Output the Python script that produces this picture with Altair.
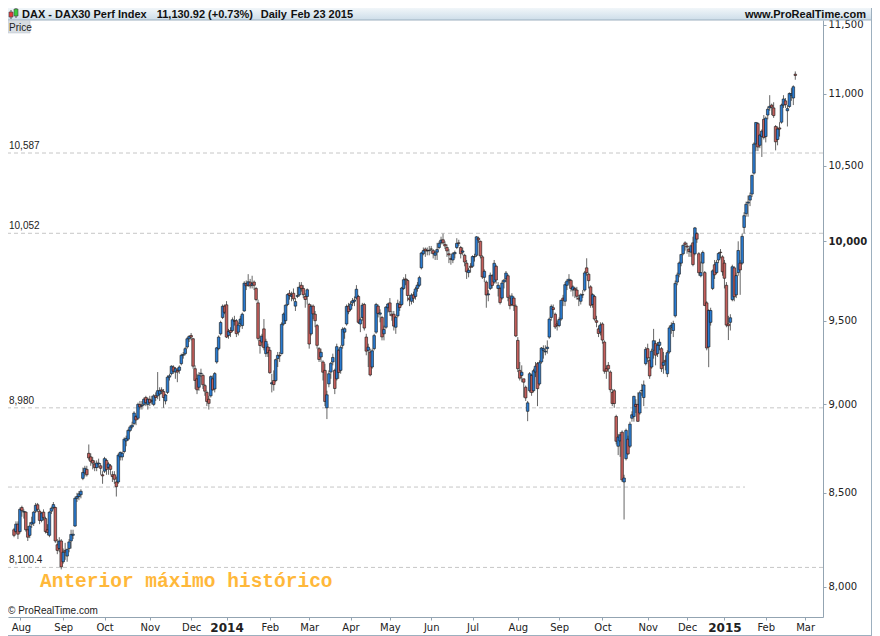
import altair as alt
import pandas as pd

# ---------------- data ----------------
holidays = ["2013-12-24", "2013-12-25", "2013-12-26", "2013-12-31", "2014-01-01",
            "2014-04-18", "2014-04-21", "2014-05-01", "2014-12-24", "2014-12-25",
            "2014-12-26", "2014-12-31", "2015-01-01"]

opens = [
    8300, 8290, 8330,
    8290, 8420, 8395, 8395, 8300, 8270, 8330, 8335, 8400, 8435, 8400, 8350, 8395, 8360, 8300, 8270, 8400, 8420, 8420, 8220, 8200, 8240,
    8130, 8190, 8160, 8200, 8240, 8270, 8320, 8470, 8480, 8490, 8580, 8610, 8630, 8720, 8700, 8680, 8660, 8640, 8660, 8650, 8600,
    8620, 8680, 8640, 8650, 8600, 8600, 8560, 8560, 8700, 8700, 8730, 8790, 8800, 8850, 8870, 8890, 8930, 8920, 9000, 8990, 9000, 9040, 9000,
    9030, 9020, 9000, 9050, 9050, 9060, 9085, 9075, 9020, 9070, 9160, 9180, 9220, 9190, 9200, 9200, 9240, 9290, 9300, 9340, 9390,
    9410, 9390, 9210, 9150, 9100, 9180, 9170, 9110, 9070, 9030, 9050, 9150, 9090, 9250, 9330, 9420, 9520, 9590,
    9598, 9410, 9440, 9440, 9500, 9500, 9430, 9480, 9470, 9560, 9730, 9720, 9740, 9720, 9740, 9700, 9610, 9380, 9370, 9450, 9300, 9340,
    9320, 9120, 9140, 9140, 9270, 9290, 9300, 9480, 9500, 9600, 9670, 9650, 9670, 9590, 9650, 9660, 9720, 9700, 9650, 9650,
    9600, 9420, 9590, 9540, 9470, 9330, 9280, 9250, 9200, 8980, 9120, 9190, 9250, 9200, 9150, 9320, 9200, 9350, 9430, 9480, 9590,
    9570, 9610, 9620, 9640, 9650, 9480, 9520, 9600, 9400, 9320, 9310, 9220, 9330, 9430, 9590, 9540, 9520, 9420, 9460, 9580,
    9610, 9540, 9540, 9460, 9530, 9600, 9600, 9700, 9760, 9750, 9640, 9620, 9660, 9650, 9700, 9720, 9830, 9920, 9950, 9940, 9940,
    9950, 9940, 9910, 9930, 9960, 9990, 10010, 9980, 9960, 9920, 9890, 9880, 9920, 9960, 9990, 9960, 9930, 9910, 9860, 9800, 9840,
    9840, 9900, 9910, 10020, 10000, 9900, 9770, 9740, 9660, 9700, 9780, 9740, 9840, 9700, 9700, 9640, 9740, 9760, 9780, 9640, 9600, 9640, 9590,
    9380, 9200, 9170, 9150, 9100, 8960, 9080, 9170, 9080, 9190, 9240, 9120, 9250, 9320, 9310, 9330, 9400, 9520, 9580, 9540, 9480,
    9470, 9510, 9640, 9620, 9720, 9750, 9750, 9690, 9700, 9690, 9640, 9620, 9660, 9690, 9830, 9790, 9710, 9600, 9650, 9500, 9450, 9430,
    9480, 9370, 9210, 9230, 9190, 9070, 9080, 8930, 8760, 8790, 8840, 8560, 8690, 8800, 8760, 8920, 8930, 9000, 9000, 8950, 9080, 9040, 9240,
    9330, 9260, 9220, 9320, 9360, 9300, 9350, 9330, 9230, 9260, 9180, 9310, 9460, 9440, 9530, 9740, 9790, 9860, 9920, 9990,
    9970, 9950, 9930, 9990, 9920, 10050, 9920, 9780, 9860, 9800, 9610, 9340, 9490, 9700, 9850, 9800, 9880, 9930, 9900,
    9860, 9720, 9480, 9490, 9630, 9830, 9660, 9800, 9860, 9860, 10090, 10180, 10250, 10270, 10310, 10450, 10650, 10790, 10640, 10700, 10820,
    10700, 10850, 10900, 10920, 10900, 10770, 10680, 10760, 10800, 10920, 10950, 10880, 10910, 10990, 10970, 11140,
]

highs = [
    8310, 8345, 8345,
    8420, 8430, 8410, 8400, 8320, 8340, 8370, 8400, 8445, 8445, 8410, 8395, 8410, 8370, 8330, 8400, 8425, 8450, 8425, 8250, 8260, 8250,
    8200, 8230, 8200, 8250, 8300, 8300, 8480, 8500, 8510, 8520, 8640, 8650, 8650, 8770, 8720, 8700, 8680, 8680, 8690, 8665, 8620,
    8700, 8690, 8670, 8660, 8620, 8620, 8590, 8720, 8730, 8730, 8810, 8820, 8860, 8880, 8900, 8960, 8940, 9010, 9020, 9020, 9040, 9050, 9040,
    9050, 9050, 9060, 9070, 9190, 9100, 9100, 9090, 9060, 9170, 9180, 9230, 9230, 9220, 9215, 9230, 9300, 9310, 9340, 9400, 9410,
    9425, 9395, 9230, 9180, 9190, 9210, 9180, 9120, 9080, 9050, 9170, 9170, 9190, 9340, 9410, 9500, 9600, 9600,
    9621, 9450, 9460, 9520, 9530, 9510, 9490, 9530, 9550, 9745, 9750, 9790, 9760, 9780, 9750, 9710, 9630, 9410, 9420, 9510, 9390, 9360,
    9340, 9180, 9200, 9270, 9310, 9310, 9490, 9550, 9600, 9670, 9690, 9680, 9700, 9640, 9710, 9740, 9740, 9720, 9670, 9700,
    9610, 9600, 9600, 9560, 9480, 9340, 9330, 9260, 9240, 9080, 9200, 9250, 9300, 9210, 9360, 9330, 9350, 9460, 9460, 9600, 9610,
    9620, 9640, 9650, 9721, 9660, 9520, 9610, 9610, 9420, 9360, 9330, 9330, 9420, 9610, 9600, 9570, 9530, 9470, 9590, 9610,
    9640, 9560, 9560, 9530, 9630, 9620, 9710, 9770, 9790, 9760, 9660, 9670, 9680, 9710, 9740, 9780, 9930, 9960, 9960, 9960, 9970,
    9970, 9950, 9940, 9990, 10000, 10030, 10050, 10000, 9980, 9950, 9910, 9930, 9940, 10020, 10010, 9970, 9960, 9920, 9880, 9830, 9860,
    9910, 9920, 10033, 10030, 10005, 9910, 9820, 9750, 9690, 9800, 9790, 9880, 9850, 9740, 9710, 9750, 9760, 9810, 9790, 9660, 9670, 9650, 9600,
    9400, 9250, 9230, 9150, 9110, 9020, 9190, 9180, 9210, 9250, 9250, 9260, 9340, 9350, 9350, 9380, 9520, 9600, 9600, 9550, 9500,
    9520, 9630, 9660, 9740, 9760, 9790, 9760, 9720, 9710, 9710, 9660, 9670, 9690, 9810, 9891, 9800, 9720, 9670, 9660, 9530, 9470, 9490,
    9490, 9380, 9230, 9250, 9200, 9090, 9090, 8940, 8830, 8840, 8850, 8600, 8860, 8820, 8900, 8960, 9050, 9030, 9070, 9080, 9120, 9140, 9340,
    9360, 9280, 9330, 9450, 9380, 9370, 9390, 9340, 9310, 9290, 9320, 9470, 9490, 9500, 9750, 9800, 9870, 9920, 9980, 10000,
    9990, 9960, 9980, 10030, 10093, 10060, 9930, 9870, 9940, 9810, 9620, 9570, 9580, 9820, 9880, 9880, 9930, 9950, 9910,
    9880, 9740, 9530, 9540, 9850, 9840, 9800, 10000, 9880, 10050, 10190, 10260, 10300, 10320, 10440, 10660, 10800, 10800, 10720, 10750, 10850,
    10840, 10910, 10990, 10930, 10940, 10780, 10770, 10800, 10930, 10990, 10970, 10920, 11010, 11040, 11060, 11160,
]

lows = [
    8260, 8280, 8250,
    8280, 8370, 8360, 8290, 8240, 8255, 8310, 8320, 8390, 8395, 8330, 8340, 8350, 8280, 8270, 8260, 8385, 8410, 8230, 8170, 8180, 8090,
    8120, 8140, 8130, 8180, 8200, 8250, 8315, 8450, 8460, 8470, 8570, 8590, 8590, 8680, 8650, 8630, 8620, 8620, 8640, 8600, 8550,
    8610, 8600, 8600, 8600, 8560, 8550, 8480, 8550, 8680, 8680, 8720, 8760, 8790, 8840, 8860, 8880, 8880, 8910, 8970, 8970, 8990, 8990, 8970,
    8990, 9000, 8990, 9020, 9030, 9020, 9060, 8980, 9000, 9060, 9140, 9170, 9180, 9150, 9130, 9180, 9230, 9270, 9290, 9330, 9370,
    9380, 9210, 9090, 9060, 9080, 9160, 9090, 9050, 8990, 8970, 9040, 9080, 9070, 9240, 9320, 9410, 9510, 9540,
    9394, 9390, 9400, 9430, 9470, 9400, 9410, 9460, 9450, 9555, 9690, 9710, 9700, 9700, 9690, 9620, 9380, 9300, 9340, 9320, 9280, 9280,
    9180, 9070, 9080, 9130, 9220, 9250, 9295, 9470, 9480, 9590, 9630, 9620, 9620, 9560, 9640, 9650, 9680, 9640, 9580, 9600,
    9330, 9410, 9510, 9460, 9330, 9250, 9250, 9140, 8990, 8915, 9100, 9150, 9230, 9060, 9140, 9150, 9180, 9330, 9390, 9470, 9540,
    9560, 9590, 9590, 9630, 9480, 9430, 9500, 9440, 9290, 9220, 9165, 9210, 9320, 9420, 9520, 9490, 9380, 9380, 9450, 9550,
    9530, 9500, 9440, 9420, 9520, 9560, 9590, 9690, 9720, 9620, 9590, 9600, 9610, 9630, 9680, 9710, 9820, 9910, 9900, 9910, 9910,
    9920, 9890, 9880, 9880, 9950, 9980, 9980, 9950, 9900, 9860, 9850, 9860, 9890, 9950, 9970, 9890, 9910, 9840, 9760, 9770, 9800,
    9830, 9870, 9900, 9990, 9890, 9760, 9740, 9580, 9620, 9690, 9700, 9730, 9730, 9650, 9600, 9630, 9700, 9740, 9620, 9570, 9590, 9560, 9400,
    9190, 9140, 9130, 9040, 9020, 8903, 9070, 9050, 9070, 9160, 8990, 9110, 9240, 9270, 9290, 9300, 9390, 9500, 9540, 9450, 9440,
    9460, 9500, 9590, 9590, 9690, 9730, 9680, 9650, 9640, 9630, 9590, 9600, 9640, 9680, 9780, 9700, 9580, 9580, 9500, 9460, 9400, 9410,
    9360, 9180, 9150, 9190, 9070, 8990, 8980, 8770, 8710, 8700, 8560, 8355, 8680, 8710, 8750, 8900, 8900, 8950, 8900, 8940, 9050, 8990, 9230,
    9250, 9150, 9210, 9270, 9230, 9280, 9320, 9190, 9180, 9200, 9160, 9300, 9420, 9400, 9520, 9720, 9770, 9840, 9910, 9940,
    9920, 9900, 9900, 9840, 9910, 9990, 9780, 9770, 9800, 9590, 9320, 9219, 9470, 9690, 9760, 9790, 9860, 9890, 9780,
    9700, 9460, 9382, 9440, 9620, 9620, 9640, 9780, 9660, 9850, 10050, 10160, 10160, 10230, 10290, 10440, 10600, 10600, 10620, 10560, 10680,
    10660, 10820, 10880, 10850, 10830, 10605, 10640, 10700, 10790, 10900, 10900, 10770, 10900, 10950, 10920, 11100,
]

closes = [
    8270, 8330, 8276,
    8410, 8403, 8398, 8300, 8260, 8320, 8340, 8395, 8432, 8410, 8350, 8390, 8365, 8290, 8285, 8395, 8416, 8436, 8240, 8190, 8240, 8103,
    8180, 8181, 8195, 8235, 8275, 8276, 8470, 8480, 8495, 8509, 8613, 8636, 8600, 8694, 8675, 8665, 8640, 8665, 8665, 8636, 8594,
    8690, 8630, 8660, 8630, 8590, 8575, 8534, 8710, 8725, 8720, 8800, 8805, 8850, 8870, 8880, 8950, 8910, 9000, 8985, 8995, 9030, 9010, 9030,
    9010, 9020, 9050, 9040, 9080, 9080, 9078, 9040, 9055, 9160, 9168, 9225, 9195, 9210, 9190, 9220, 9290, 9295, 9330, 9390, 9405,
    9400, 9225, 9140, 9085, 9172, 9183, 9115, 9077, 9017, 9006, 9163, 9085, 9181, 9335, 9400, 9489, 9589, 9552,
    9400, 9435, 9428, 9506, 9497, 9421, 9473, 9510, 9540, 9733, 9717, 9742, 9716, 9730, 9720, 9631, 9392, 9349, 9406, 9336, 9374, 9306,
    9186, 9127, 9116, 9264, 9290, 9286, 9478, 9541, 9596, 9662, 9656, 9660, 9635, 9618, 9656, 9708, 9699, 9661, 9631, 9692,
    9358, 9589, 9542, 9500, 9350, 9265, 9308, 9189, 9017, 9056, 9180, 9242, 9277, 9093, 9342, 9188, 9338, 9448, 9451, 9588, 9556,
    9603, 9623, 9628, 9695, 9490, 9506, 9596, 9455, 9315, 9339, 9173, 9317, 9409, 9600, 9545, 9548, 9401, 9446, 9584, 9603,
    9556, 9530, 9467, 9521, 9607, 9581, 9703, 9755, 9755, 9656, 9630, 9659, 9639, 9697, 9721, 9768, 9925, 9940, 9939, 9938, 9943,
    9950, 9920, 9926, 9947, 9987, 10008, 9990, 9970, 9938, 9912, 9883, 9920, 9928, 9987, 9987, 9920, 9938, 9867, 9805, 9815, 9833,
    9902, 9902, 10029, 10009, 9906, 9772, 9808, 9659, 9666, 9783, 9719, 9859, 9753, 9720, 9612, 9734, 9753, 9797, 9644, 9593, 9653, 9593, 9407,
    9210, 9154, 9189, 9130, 9038, 9009, 9180, 9069, 9198, 9225, 9092, 9246, 9334, 9330, 9315, 9339, 9510, 9588, 9569, 9462, 9470,
    9507, 9626, 9627, 9724, 9747, 9758, 9700, 9710, 9691, 9651, 9633, 9660, 9661, 9798, 9800, 9749, 9595, 9661, 9510, 9490, 9422, 9474,
    9382, 9195, 9195, 9209, 9086, 9005, 9005, 8788, 8812, 8825, 8571, 8582, 8850, 8717, 8886, 8940, 9047, 8988, 8902, 9068, 9082, 9114, 9326,
    9274, 9167, 9315, 9378, 9291, 9351, 9369, 9210, 9248, 9252, 9306, 9456, 9472, 9483, 9732, 9785, 9861, 9915, 9974, 9980,
    9963, 9934, 9971, 9851, 10087, 10014, 9799, 9800, 9928, 9594, 9334, 9563, 9563, 9811, 9786, 9865, 9922, 9927, 9805,
    9764, 9473, 9469, 9518, 9837, 9648, 9781, 9941, 9817, 10032, 10167, 10242, 10257, 10299, 10435, 10649, 10798, 10628, 10710, 10738, 10694,
    10828, 10891, 10911, 10905, 10846, 10664, 10752, 10752, 10920, 10963, 10923, 10895, 11002, 11001, 11050, 11131,
]

levels = [10587, 10052, 8980, 8100.4]
level_labels = ["10,587", "10,052", "8,980", "8,100.4"]
short_level = [8532]
y_ticks = [8000, 8500, 9000, 9500, 10000, 10500, 11000, 11500]
month_abbr = ["Jan", "Feb", "Mar", "Apr", "May", "Jun", "Jul", "Aug", "Sep", "Oct", "Nov", "Dec"]

header_name = "DAX - DAX30 Perf Index"
header_price = "11,130.92 (+0.73%)"
header_period = "Daily"
header_date = "Feb 23 2015"
header_site = "www.ProRealTime.com"
copyright_text = "\u00a9 ProRealTime.com"
annotation = "Anterior m\u00e1ximo hist\u00f3rico"

# ---------------- build table ----------------
days = pd.bdate_range("2013-07-29", "2015-02-23")
days = days[~days.isin(pd.to_datetime(holidays))]
n = min(len(days), len(closes), len(opens), len(highs), len(lows))
days = days[:n]
start = int((days < pd.Timestamp("2013-08-01")).sum())
df = pd.DataFrame({
    "date": days,
    "idx": [i - start for i in range(n)],
    "open": opens[:n], "high": highs[:n], "low": lows[:n], "close": closes[:n],
})

# month ticks (first trading day of each month) + March 2015
tick_vals, tick_names, year_vals = [], [], []
prev = None
for i, d in enumerate(days):
    key = (d.year, d.month)
    if key != prev and d >= pd.Timestamp("2013-08-01"):
        tick_vals.append(i - start)
        if d.month == 1:
            tick_names.append(str(d.year))
            year_vals.append(i - start)
        else:
            tick_names.append(month_abbr[d.month - 1])
    prev = key
extra = len(pd.bdate_range("2015-02-24", "2015-03-02"))
tick_vals.append(int(df["idx"].iloc[-1]) + extra)
tick_names.append("Mar")

label_expr = "".join(f"datum.value == {v} ? '{t}' : " for v, t in zip(tick_vals, tick_names)) + "''"
year_test = " || ".join(f"datum.value == {v}" for v in year_vals)

AXC = "#93a4b2"
W, H = 815, 597

x_scale = alt.Scale(domain=[-3.51, 405.54], nice=False, zero=False)
y_scale = alt.Scale(type="log", domain=[7845, 11537], nice=False)

x_axis = alt.Axis(values=tick_vals, labelExpr=label_expr, title=None, grid=False,
                  tickSize=3, tickColor=AXC, domainColor=AXC, labelColor="#222",
                  labelFont="DejaVu Sans",
                  labelFontSize={"condition": {"test": year_test, "value": 12}, "value": 10},
                  labelFontWeight={"condition": {"test": year_test, "value": "bold"}, "value": "normal"},
                  labelOffset={"condition": {"test": "datum.value == 0", "value": 1}, "value": 0},
                  labelPadding=2, labelFlush=False, labelOverlap=False)
y_axis = alt.Axis(orient="right", values=y_ticks, format=",", title=None, grid=False,
                  tickSize=3, tickColor=AXC, domainColor=AXC, labelColor="#222",
                  labelFont="DejaVu Sans", labelFontSize=10, labelPadding=2,
                  labelFontWeight={"condition": {"test": "datum.value == 10000", "value": "bold"}, "value": "normal"})

def X(f):
    return alt.X(f, type="quantitative", scale=x_scale, axis=x_axis)

def Y(f):
    return alt.Y(f, type="quantitative", scale=y_scale, axis=y_axis)

def one(t=""):
    return pd.DataFrame({"t": [t]})

# header
grad = alt.LinearGradient(gradient="linear", x1=0, x2=0, y1=0, y2=1,
                          stops=[alt.GradientStop(color="#f1f6f9", offset=0),
                                 alt.GradientStop(color="#cddde9", offset=1)])
header_bg = alt.Chart(one()).mark_rect(color=grad).encode(
    x=alt.value(0), x2=alt.value(864), y=alt.value(-12), y2=alt.value(0))
header_line = alt.Chart(one()).mark_rule(color="#9db0bf", strokeWidth=1).encode(
    x=alt.value(0), x2=alt.value(864), y=alt.value(0))
frame_right = alt.Chart(one()).mark_rule(color="#9db0bf", strokeWidth=1).encode(
    x=alt.value(863.5), y=alt.value(-12), y2=alt.value(616))
frame_bottom = alt.Chart(one()).mark_rule(color="#9db0bf", strokeWidth=1).encode(
    x=alt.value(0), x2=alt.value(864), y=alt.value(615.5))
icon_red_w = alt.Chart(one()).mark_rule(color="#555").encode(x=alt.value(3), y=alt.value(-10), y2=alt.value(-1))
icon_red = alt.Chart(one()).mark_rect(color="#e23b3b", stroke="#444", strokeWidth=0.6).encode(
    x=alt.value(1), x2=alt.value(5), y=alt.value(-8), y2=alt.value(-3))
icon_grn_w = alt.Chart(one()).mark_rule(color="#555").encode(x=alt.value(8), y=alt.value(-12), y2=alt.value(-2))
icon_grn = alt.Chart(one()).mark_rect(color="#3cc83c", stroke="#444", strokeWidth=0.6).encode(
    x=alt.value(6), x2=alt.value(10), y=alt.value(-11), y2=alt.value(-4))

def htext(t, x, align="left"):
    return alt.Chart(one(t)).mark_text(align=align, baseline="alphabetic", font="Liberation Sans",
                                       fontSize=11, fontWeight="bold", color="#111").encode(
        x=alt.value(x), y=alt.value(-2.5), text="t:N")

price_box = alt.Chart(one()).mark_rect(color="#d8dde2", stroke="#b9c3cc", strokeWidth=0.5).encode(
    x=alt.value(0), x2=alt.value(22), y=alt.value(0.5), y2=alt.value(13))
price_txt = alt.Chart(one("Price")).mark_text(align="left", baseline="alphabetic", font="Liberation Sans",
                                              fontSize=10, color="#222").encode(
    x=alt.value(1), y=alt.value(10.5), text="t:N")

# horizontal levels
lv = pd.DataFrame({"level": levels, "label": level_labels})
level_rules = alt.Chart(lv).mark_rule(color="#c6c6c6", strokeDash=[4, 3], strokeWidth=1).encode(y=Y("level"))
level_text = alt.Chart(lv).mark_text(align="left", baseline="alphabetic", dy=-4, font="Liberation Sans",
                                     fontSize=10, color="#222").encode(
    x=alt.value(1), y=Y("level"), text="label:N")
short_rule = alt.Chart(pd.DataFrame({"level": short_level})).mark_rule(
    color="#c6c6c6", strokeDash=[4, 3], strokeWidth=1).encode(
    x=alt.value(0), x2=alt.value(737), y=Y("level"))

# candles
wicks = alt.Chart(df).mark_rule(color="#666666", strokeWidth=1).encode(x=X("idx"), y=Y("low"), y2="high:Q")
bodies = alt.Chart(df).mark_bar(width=2.6, stroke="#161616", strokeWidth=0.6).encode(
    x=X("idx"), y=Y("open"), y2="close:Q",
    color=alt.condition("datum.close >= datum.open", alt.value("#2a7bd0"), alt.value("#c45f5c")))

anno = alt.Chart(one(annotation)).mark_text(align="left", baseline="alphabetic", font="Liberation Mono",
                                            fontSize=19.5, fontWeight="bold", color="#ffb83a").encode(
    x=alt.value(32), y=alt.value(566.7), text="t:N")
copy_txt = alt.Chart(one(copyright_text)).mark_text(align="left", baseline="alphabetic", font="Liberation Sans",
                                                    fontSize=10, color="#222").encode(
    x=alt.value(0), y=alt.value(594), text="t:N")

chart = alt.layer(
    header_bg, header_line, frame_right, frame_bottom,
    icon_red_w, icon_red, icon_grn_w, icon_grn,
    htext(header_name, 14), htext(header_price, 148.7), htext(header_period, 252.7),
    htext(header_date, 282.7), htext(header_site, 858, "right"),
    level_rules, short_rule, wicks, bodies, level_text,
    price_box, price_txt, anno, copy_txt,
).properties(
    width=W, height=H,
    padding={"left": 0, "top": 12, "right": 49, "bottom": 19},
    autosize=alt.AutoSizeParams(type="none"),
    background="white",
).configure_view(strokeWidth=0)

chart.save("out.html", embed_options={"renderer": "svg", "actions": False})
